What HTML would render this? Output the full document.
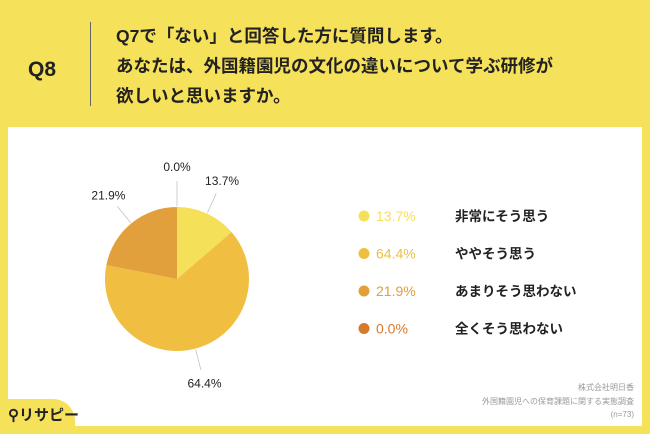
<!DOCTYPE html>
<html><head><meta charset="utf-8"><style>
body{margin:0;width:650px;height:434px;background:#F6E15B;position:relative;overflow:hidden;font-family:"Liberation Sans","Noto Sans CJK JP",sans-serif;}
.abs{position:absolute}
</style></head><body>
<div class="abs" style="left:28px;top:58px;font-size:21px;font-weight:bold;color:#222">Q8</div>
<div class="abs" style="left:90px;top:22px;width:1px;height:84px;background:#666"></div>
<div class="abs" style="left:116px;top:21px;font-size:17.5px;font-weight:bold;line-height:30px;color:#222">Q7で「ない」と回答した方に質問します。<br>あなたは、外国籍園児の文化の違いについて学ぶ研修が<br>欲しいと思いますか。</div>
<div class="abs" style="left:8px;top:127px;width:634px;height:299px;background:#fff"></div>
<svg class="abs" style="left:0;top:0" width="650" height="434">
<g id="pie"></g><g id="legend"></g>
</svg>
<div class="abs" style="left:330px;top:381px;width:304px;font-size:8px;color:#999;text-align:right;line-height:13.5px">株式会社明日香<br>外国籍園児への保育課題に関する実態調査<br>(n=73)</div>
<div class="abs" style="left:0;top:399px;width:75px;height:35px;background:#F6E15B;border-top-right-radius:22px"></div>
<div class="abs" style="left:8px;top:404px;font-size:15px;font-weight:bold;color:#222">⚲リサピー</div>
<script>
const categories=["非常にそう思う","ややそう思う","あまりそう思わない","全くそう思わない"];
const values=[13.7,64.4,21.9,0.0];
const labels=["13.7%","64.4%","21.9%","0.0%"];
const colors=["#F5E05A","#F0BF42","#E1A03B","#D67A2C"];
const NS="http://www.w3.org/2000/svg";
const cx=177,cy=279,r=72;
const pie=document.getElementById('pie'),leg=document.getElementById('legend');
const total=values.reduce((a,b)=>a+b,0);
let a=0;
function pt(ang,rad){return [cx+rad*Math.sin(ang),cy-rad*Math.cos(ang)];}
values.forEach((v,i)=>{
 const a0=a,a1=a+v/total*2*Math.PI;a=a1;
 if(v>0){
  const p0=pt(a0,r),p1=pt(a1,r),large=(a1-a0)>Math.PI?1:0;
  const p=document.createElementNS(NS,'path');
  p.setAttribute('d',`M${cx},${cy}L${p0[0]},${p0[1]}A${r},${r} 0 ${large} 1 ${p1[0]},${p1[1]}Z`);
  p.setAttribute('fill',colors[i]);
  
  
  pie.appendChild(p);
 }
 const m=(a0+a1)/2;
 let lp=pt(m,r+36);
 if(v===0){lp=[cx,cy-r-40];}
 const ln=document.createElementNS(NS,'line');
 const s=pt(m,r+1),e=pt(m,r+22);
 ln.setAttribute('x1',s[0]);ln.setAttribute('y1',s[1]);ln.setAttribute('x2',v===0?cx:e[0]);ln.setAttribute('y2',v===0?cy-r-26:e[1]);
 ln.setAttribute('stroke','#bbb');ln.setAttribute('stroke-width','0.7');
 
 
 pie.appendChild(ln);
 const t=document.createElementNS(NS,'text');
 t.setAttribute('x',lp[0]);t.setAttribute('y',lp[1]+4);t.setAttribute('text-anchor','middle');
 t.setAttribute('font-size','12');t.setAttribute('fill','#222');t.textContent=labels[i];
 
 
 pie.appendChild(t);
 const y=216+i*37.5;
 const c=document.createElementNS(NS,'circle');
 c.setAttribute('cx',364);c.setAttribute('cy',y);c.setAttribute('r',5.5);c.setAttribute('fill',colors[i]);
 
 
 leg.appendChild(c);
 const pt2=document.createElementNS(NS,'text');
 pt2.setAttribute('x',376);pt2.setAttribute('y',y+5);pt2.setAttribute('font-size','14');pt2.setAttribute('fill',colors[i]);pt2.textContent=labels[i];
 
 
 leg.appendChild(pt2);
 const ct=document.createElementNS(NS,'text');
 ct.setAttribute('x',455);ct.setAttribute('y',y+5);ct.setAttribute('font-size','13.5');ct.setAttribute('font-weight','bold');ct.setAttribute('fill','#222');ct.textContent=categories[i];
 
 
 leg.appendChild(ct);
});
</script>
</body></html>
